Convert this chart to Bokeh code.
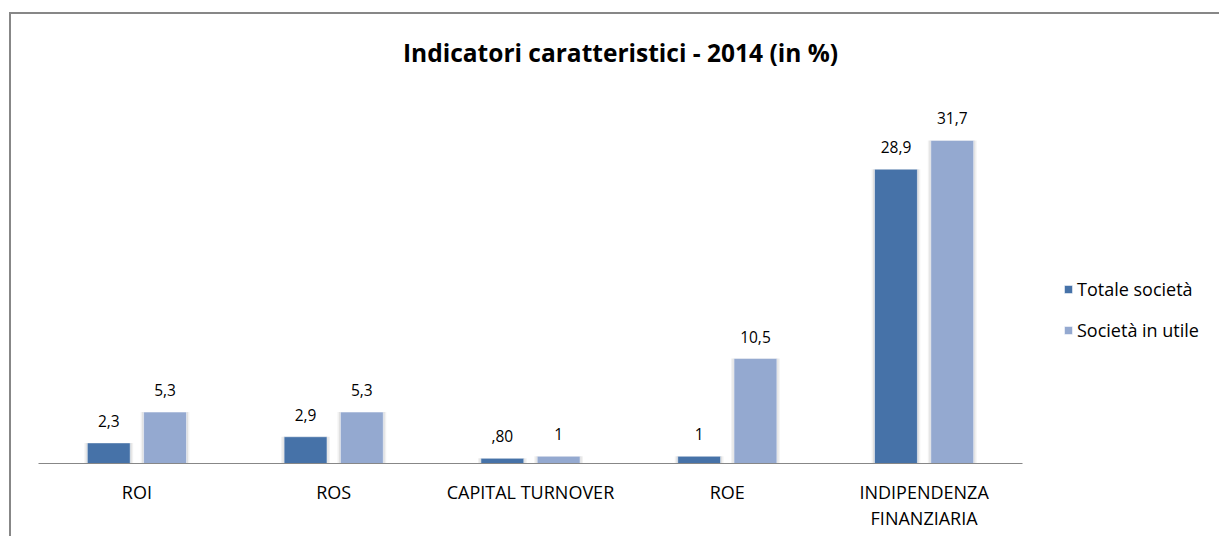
from bokeh.plotting import figure
from bokeh.models import Range1d, ColumnDataSource, Legend, LegendItem, Label, FixedTicker
from bokeh.transform import dodge
from bokeh.embed import file_html
from bokeh.resources import INLINE
from bokeh.core.properties import value

# ---- data ----
categories = ["ROI", "ROS", "CAPITAL TURNOVER", "ROE", "INDIPENDENZA\nFINANZIARIA"]
totale_societa = [2.3, 2.9, 0.80, 1.0, 28.9]
societa_in_utile = [5.3, 5.3, 1.0, 10.5, 31.7]
totale_labels = ["2,3", "2,9", ",80", "1", "28,9"]
in_utile_labels = ["5,3", "5,3", "1", "10,5", "31,7"]
series_names = ["Totale società", "Società in utile"]
title_text = "Indicatori caratteristici - 2014 (in %)"

# ---- layout / style ----
FONT = "Open Sans"
DARK = "#4672A8"
LIGHT = "#94A9D0"
W, H = 1210, 524          # canvas (inside the css border)
BOTTOM = 75               # space for the category axis
CAT_PX = 196.8            # pixel width of one category band
AXIS_LEFT_PX = 27         # where the category axis starts inside the canvas
Y_PX = 10.29              # pixels per unit on the value axis
Y_START = 0.3
OFF = 0.143
BW = 0.218

xs = [i + 0.5 for i in range(len(categories))]
src = ColumnDataSource(dict(x=xs, tot=totale_societa, utl=societa_in_utile,
                            tl=totale_labels, ul=in_utile_labels))

x_start = -AXIS_LEFT_PX / CAT_PX
x_end = x_start + W / CAT_PX
y_end = Y_START + (H - BOTTOM) / Y_PX

p = figure(x_range=Range1d(x_start, x_end), y_range=Range1d(Y_START, y_end),
           width=W, height=H, output_backend="svg", toolbar_location=None,
           y_axis_location=None, min_border=0, min_border_bottom=BOTTOM)
p.styles = {"border-left": "2px solid #878787", "border-top": "2px solid #878787",
            "transform": "translate(9px, 12px)"}
p.outline_line_color = None
p.xgrid.visible = False
p.ygrid.visible = False
p.background_fill_color = "white"
p.border_fill_color = "white"

# soft shadows around the bars
for off, col in ((-OFF, "tot"), (OFF, "utl")):
    p.vbar(x=dodge("x", off), top=col, bottom=0, width=BW + 0.03,
           fill_color="#000000", fill_alpha=0.05, line_color=None, source=src)
    p.vbar(x=dodge("x", off), top=col, bottom=0, width=BW + 0.015,
           fill_color="#000000", fill_alpha=0.07, line_color=None, source=src)

r1 = p.vbar(x=dodge("x", -OFF), top="tot", bottom=0, width=BW,
            fill_color=DARK, line_color="white", line_alpha=0.5, line_width=1, source=src)
r2 = p.vbar(x=dodge("x", OFF), top="utl", bottom=0, width=BW,
            fill_color=LIGHT, line_color="white", line_alpha=0.5, line_width=1, source=src)

p.text(x=dodge("x", -OFF), y="tot", text="tl", y_offset=-22,
       text_align="center", text_baseline="alphabetic", text_font=value(FONT),
       text_font_size="15.5px", text_color="black", source=src)
p.text(x=dodge("x", OFF), y="utl", text="ul", y_offset=-22,
       text_align="center", text_baseline="alphabetic", text_font=value(FONT),
       text_font_size="15.5px", text_color="black", source=src)

ax = p.xaxis[0]
ax.ticker = FixedTicker(ticks=xs)
ax.major_label_overrides = {x: c for x, c in zip(xs, categories)}
ax.bounds = (0, len(categories))
ax.axis_line_color = "#878787"
ax.axis_line_width = 1.2
ax.major_tick_line_color = None
ax.minor_tick_line_color = None
ax.major_tick_out = 0
ax.major_tick_in = 0
ax.major_label_standoff = 16
ax.major_label_text_font = FONT
ax.major_label_text_font_size = "18px"
ax.major_label_text_color = "black"
ax.major_label_text_line_height = 1.1

title = Label(x=609, y=411, x_units="screen", y_units="screen", text=title_text,
              text_align="center", text_baseline="alphabetic", text_font=FONT,
              text_font_size="24.5px", text_font_style="bold", text_color="black")
p.add_layout(title)

legend = Legend(items=[LegendItem(label=series_names[0], renderers=[r1]),
                       LegendItem(label=series_names[1], renderers=[r2])],
                location=(1052, 121), glyph_width=10, glyph_height=10, label_height=18,
                spacing=17, padding=0, margin=0, border_line_color=None,
                background_fill_alpha=0, label_text_font=FONT, label_text_font_size="18px",
                label_standoff=4, label_text_color="black")
p.add_layout(legend)

open("out.html", "w").write(file_html(p, INLINE))
